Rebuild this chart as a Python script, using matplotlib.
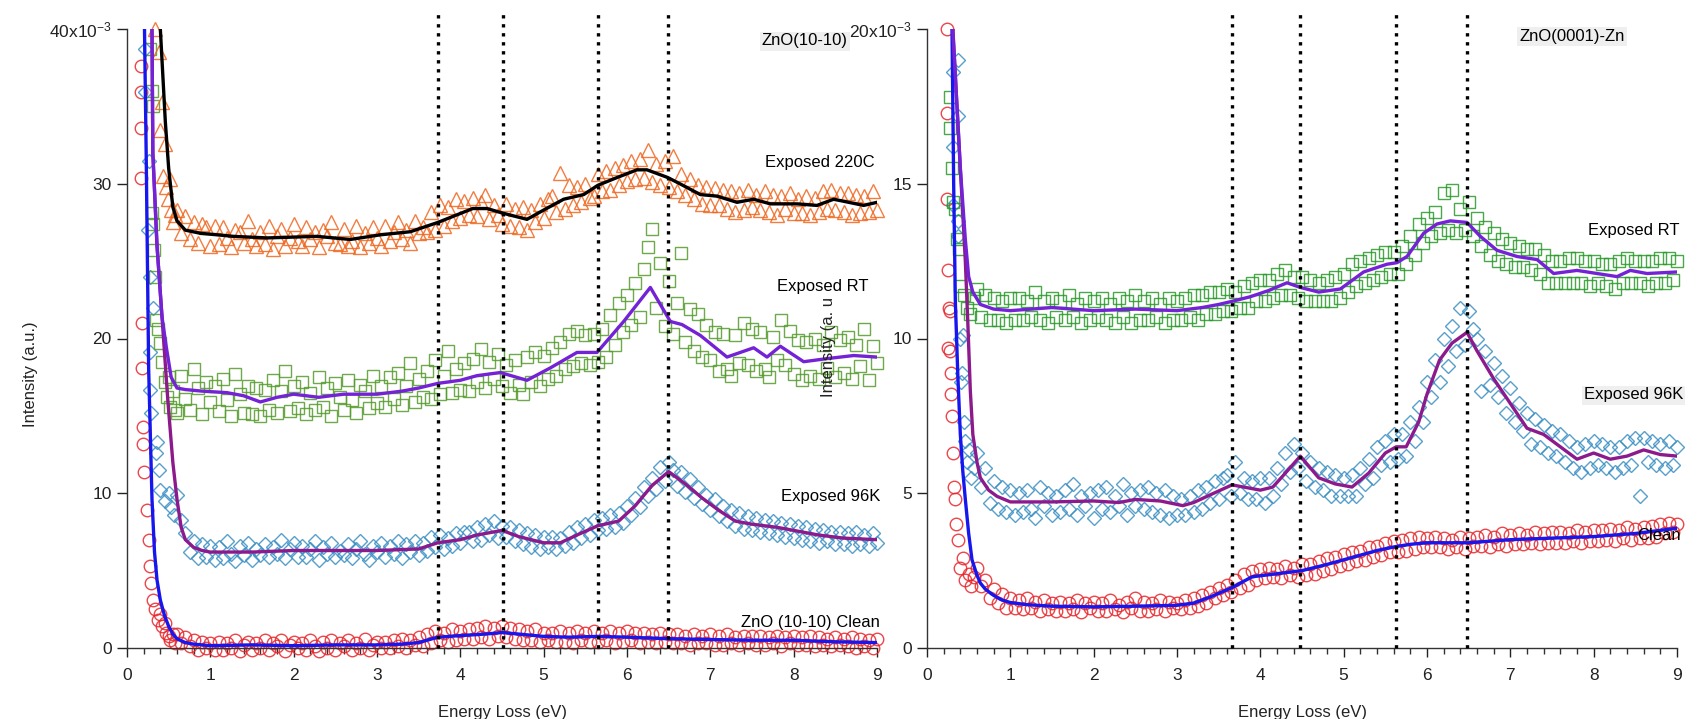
import numpy as np
import matplotlib
matplotlib.use("Agg")
import matplotlib.pyplot as plt

plt.rcParams["font.family"] = ["Liberation Sans", "DejaVu Sans"]
plt.rcParams["font.size"] = 12

# energy grid of the measured points (eV); intensities below are in units of 1e-3
E = np.round(np.arange(0.60, 9.0001, 0.05), 2)

# ---------------- ZnO(10-10) panel ----------------
l220_pts = [28.3, 26.8, 27.9, 26.4, 27.5, 26.2, 27.4, 27.2, 26.0, 27.3,
            26.1, 27.2, 26.5, 25.9, 27.0, 26.9, 26.2, 27.6, 26.4, 26.0,
            26.9, 26.1, 27.3, 25.8, 26.6, 27.1, 26.0, 26.5, 27.4, 26.3,
            26.0, 27.2, 26.4, 26.9, 25.9, 27.0, 26.6, 27.5, 26.2, 26.1,
            27.1, 26.0, 26.3, 27.3, 25.9, 26.8, 26.2, 27.2, 26.5, 26.0,
            27.3, 26.3, 26.9, 27.5, 26.4, 27.0, 26.2, 27.6, 26.8, 27.2,
            26.9, 28.2, 27.0, 28.6, 27.3, 28.5, 27.6, 29.0, 27.8, 28.9,
            28.0, 29.1, 27.9, 28.8, 29.3, 27.7, 28.6, 28.0, 27.4, 28.7,
            27.3, 28.4, 27.2, 28.5, 27.0, 28.3, 27.5, 28.7, 27.8, 29.0,
            29.2, 28.2, 30.7, 28.4, 29.9, 28.6, 29.8, 28.8, 30.0, 29.1,
            29.2, 30.6, 29.5, 30.8, 29.6, 31.0, 29.9, 31.2, 30.2, 31.5,
            30.3, 31.6, 30.4, 32.2, 30.1, 31.3, 29.9, 31.5, 29.8, 31.8,
            29.5, 30.6, 29.3, 30.3, 29.0, 29.9, 28.7, 29.8, 28.6, 29.7,
            28.6, 29.6, 28.4, 29.5, 28.2, 29.4, 28.3, 29.6, 28.5, 29.3,
            28.3, 29.5, 28.2, 29.3, 28.0, 29.2, 28.4, 29.4, 28.1, 29.0,
            28.1, 29.2, 28.0, 29.1, 28.2, 29.5, 28.4, 29.6, 28.3, 29.4,
            28.2, 29.4, 28.0, 29.3, 28.1, 29.2, 28.2, 29.5, 28.3]
l220_peak_x = [0.34, 0.38, 0.40, 0.42, 0.43, 0.45, 0.47, 0.49, 0.51, 0.53, 0.55, 0.57]
l220_peak_y = [40.0, 38.5, 33.5, 35.3, 30.5, 32.6, 29.8, 29.0, 30.3, 28.3, 27.5, 28.0]
l220_line_x = [0.40, 0.43, 0.46, 0.50, 0.55, 0.60, 0.70, 0.88, 1.28, 1.68, 2.28, 2.68, 3.04,
               3.40, 3.73, 4.15, 4.32, 4.51, 4.80, 5.00, 5.24, 5.48, 5.65, 5.88, 6.12, 6.24,
               6.49, 6.67, 6.88, 7.08, 7.32, 7.52, 7.72, 8.04, 8.28, 8.48, 8.84, 9.00]
l220_line_y = [40.0, 37.0, 34.0, 31.0, 28.5, 27.6, 27.0, 26.8, 26.6, 26.5, 26.6, 26.4, 26.7,
               26.9, 27.5, 28.4, 28.4, 28.1, 27.7, 28.3, 29.0, 29.3, 29.9, 30.4, 30.9, 30.9,
               30.4, 29.9, 29.3, 29.2, 28.8, 29.0, 28.7, 28.7, 28.6, 29.0, 28.6, 28.8]

lrt_pts = [15.2, 17.6, 16.1, 15.4, 18.0, 16.8, 15.1, 17.2, 15.9, 16.9,
           15.3, 17.4, 16.0, 15.0, 17.7, 16.4, 15.2, 16.9, 15.1, 16.8,
           15.0, 16.7, 15.4, 17.3, 15.2, 16.6, 17.9, 15.3, 16.9, 15.5,
           17.2, 15.1, 16.5, 15.4, 17.5, 15.6, 16.8, 15.0, 17.1, 16.2,
           15.4, 17.3, 16.0, 15.2, 17.0, 16.6, 15.5, 17.6, 15.8, 16.9,
           15.6, 17.5, 16.1, 17.8, 15.7, 16.9, 18.4, 15.9, 17.4, 16.2,
           17.9, 16.1, 18.6, 16.4, 17.6, 19.2, 16.5, 18.0, 16.7, 18.4,
           16.6, 18.7, 17.2, 19.3, 16.8, 18.5, 17.4, 19.0, 16.9, 18.3,
           16.5, 18.6, 17.0, 16.4, 18.8, 17.2, 19.1, 16.9, 18.9, 17.4,
           19.4, 17.6, 19.8, 18.0, 20.3, 18.2, 20.5, 18.4, 20.2, 18.3,
           20.3, 18.5, 20.6, 18.8, 21.5, 19.6, 22.3, 20.4, 22.8, 20.9,
           23.6, 21.4, 24.5, 25.9, 27.1, 22.0, 24.9, 20.8, 23.7, 20.3,
           22.3, 25.5, 19.8, 21.9, 19.2, 21.6, 18.8, 20.9, 18.6, 20.4,
           17.9, 20.3, 18.0, 17.6, 20.2, 18.4, 21.0, 18.3, 20.6, 17.9,
           20.4, 18.0, 17.5, 20.1, 18.6, 21.2, 18.3, 20.5, 17.7, 19.9,
           17.3, 19.8, 17.6, 20.0, 17.4, 19.6, 18.1, 20.4, 17.5, 19.9,
           17.8, 20.1, 17.4, 19.6, 18.2, 20.6, 17.3, 19.5, 18.4]
lrt_peak_x = [0.28, 0.30, 0.31, 0.30, 0.31, 0.32, 0.33, 0.35, 0.37, 0.40, 0.42, 0.45,
              0.48, 0.50, 0.52, 0.55, 0.57]
lrt_peak_y = [38.7, 36.0, 35.0, 28.1, 27.4, 25.7, 24.0, 21.2, 20.6, 19.7, 18.5, 17.2,
              16.2, 17.5, 15.6, 16.6, 15.4]
lrt_line_x = [0.30, 0.31, 0.36, 0.42, 0.47, 0.53, 0.60, 0.70, 0.90, 1.20, 1.40, 1.60, 1.80,
              2.00, 2.30, 2.60, 3.00, 3.30, 3.50, 3.73, 4.00, 4.20, 4.48, 4.80, 5.08, 5.40,
              5.64, 5.96, 6.28, 6.52, 6.66, 6.88, 7.20, 7.52, 7.68, 7.84, 8.12, 8.40, 8.72, 9.00]
lrt_line_y = [40.0, 32.0, 26.0, 21.4, 19.5, 17.5, 16.8, 16.7, 16.6, 16.5, 16.3, 15.9, 16.2,
              16.4, 16.2, 16.4, 16.4, 16.6, 16.8, 17.1, 17.3, 17.6, 17.8, 17.3, 18.1, 19.1,
              19.1, 21.1, 23.3, 21.1, 20.9, 20.2, 18.8, 19.4, 18.8, 19.5, 18.5, 18.7, 18.9, 18.8]

l96_pts = [9.9, 8.3, 7.4, 6.2, 6.9, 5.8, 6.7, 5.9, 6.6, 5.7,
           6.5, 5.8, 6.9, 6.1, 5.6, 6.6, 6.0, 6.8, 5.7, 6.4,
           6.0, 6.7, 5.9, 6.5, 6.1, 7.0, 5.8, 6.4, 6.8, 5.9,
           6.6, 5.9, 6.4, 6.9, 5.7, 6.5, 6.1, 6.8, 5.9, 6.3,
           6.0, 6.7, 5.8, 6.4, 6.9, 6.1, 5.7, 6.6, 6.2, 6.8,
           5.9, 6.6, 6.1, 6.9, 5.8, 6.7, 6.2, 6.9, 6.0, 6.8,
           6.3, 7.2, 6.5, 7.3, 6.4, 7.1, 6.6, 7.4, 6.8, 7.5,
           7.5, 6.9, 7.8, 7.0, 8.0, 7.3, 8.2, 7.1, 7.9, 7.2,
           7.8, 6.9, 7.6, 6.7, 7.4, 6.5, 7.3, 6.4, 7.2, 6.5,
           7.2, 6.4, 7.1, 6.6, 7.5, 6.8, 7.8, 7.1, 8.0, 7.3,
           8.3, 7.6, 8.4, 7.7, 8.6, 7.8, 8.7, 8.1, 9.2, 8.6,
           9.7, 9.1, 10.4, 9.8, 11.0, 10.3, 11.7, 10.8, 12.0, 11.5,
           10.5, 11.4, 10.1, 10.9, 9.7, 10.4, 9.3, 9.9, 8.9, 9.6,
           8.5, 9.2, 8.2, 8.9, 7.9, 8.7, 7.7, 8.5, 7.6, 8.4,
           7.5, 8.3, 7.4, 8.2, 7.3, 8.1, 7.2, 8.0, 7.1, 7.9,
           7.0, 7.8, 6.9, 7.7, 6.8, 7.6, 6.9, 7.5, 6.7, 7.5,
           6.7, 7.4, 6.6, 7.5, 6.7, 7.3, 6.6, 7.4, 6.8]
l96_peak_x = [0.22, 0.22, 0.26, 0.25, 0.27, 0.31, 0.27, 0.28, 0.29, 0.36, 0.35, 0.38,
              0.40, 0.45, 0.50, 0.53, 0.56]
l96_peak_y = [38.7, 35.9, 31.5, 27.0, 24.0, 22.0, 19.1, 16.7, 15.2, 13.3, 12.6, 11.5,
              10.2, 9.5, 10.0, 9.1, 8.6]
l96_line_x = [0.30, 0.31, 0.36, 0.42, 0.49, 0.55, 0.60, 0.65, 0.70, 0.80, 0.90, 1.00, 1.50,
              2.00, 2.50, 3.00, 3.50, 3.73, 4.00, 4.20, 4.50, 4.70, 5.00, 5.20, 5.40, 5.65,
              5.90, 6.10, 6.30, 6.50, 6.70, 6.90, 7.10, 7.30, 7.50, 7.80, 8.00, 8.30, 8.60, 9.00]
l96_line_y = [40.0, 32.0, 26.0, 21.4, 16.0, 12.0, 9.6, 7.8, 7.0, 6.5, 6.3, 6.2, 6.2,
              6.3, 6.3, 6.3, 6.4, 6.8, 7.0, 7.3, 7.6, 7.2, 6.8, 6.8, 7.3, 7.9,
              8.2, 9.2, 10.5, 11.4, 10.6, 9.7, 8.9, 8.2, 8.0, 7.8, 7.6, 7.3, 7.1, 7.0]

lcl_pts = [0.9, 0.3, 0.7, 0.1, 0.5, -0.1, 0.4, 0.0, 0.3, -0.1,
           0.4, -0.1, 0.3, 0.0, 0.5, -0.2, 0.2, 0.4, -0.1, 0.3,
           0.0, 0.5, -0.1, 0.3, 0.1, 0.5, -0.2, 0.2, 0.4, 0.0,
           0.3, -0.1, 0.5, 0.1, -0.2, 0.4, 0.0, 0.5, -0.1, 0.3,
           0.1, 0.5, -0.1, 0.3, 0.0, 0.6, -0.1, 0.2, 0.4, 0.0,
           0.4, 0.0, 0.5, 0.1, 0.6, 0.0, 0.5, 0.2, 0.7, 0.1,
           0.9, 0.3, 1.1, 0.5, 1.0, 0.4, 1.2, 0.5, 1.1, 0.6,
           1.2, 0.6, 1.3, 0.7, 1.4, 0.6, 1.3, 0.8, 1.4, 0.7,
           1.3, 0.6, 1.2, 0.5, 1.1, 0.5, 1.2, 0.4, 1.0, 0.5,
           1.0, 0.4, 1.1, 0.4, 1.0, 0.3, 1.1, 0.5, 1.0, 0.4,
           1.1, 0.4, 1.0, 0.5, 1.1, 0.3, 1.0, 0.4, 1.1, 0.5,
           1.0, 0.3, 1.0, 0.4, 0.9, 0.3, 1.0, 0.4, 0.9, 0.3,
           0.9, 0.3, 0.8, 0.2, 0.9, 0.3, 0.8, 0.3, 0.9, 0.2,
           0.8, 0.2, 0.9, 0.3, 0.7, 0.2, 0.8, 0.3, 0.8, 0.2,
           0.8, 0.2, 0.7, 0.3, 0.8, 0.1, 0.7, 0.3, 0.8, 0.2,
           0.7, 0.2, 0.8, 0.1, 0.7, 0.2, 0.6, 0.1, 0.7, 0.2,
           0.6, 0.1, 0.7, 0.0, 0.6, 0.1, 0.5, 0.0, 0.6]
lcl_peak_x = [0.17, 0.17, 0.17, 0.17, 0.18, 0.18, 0.19, 0.19, 0.20, 0.24, 0.26, 0.27,
              0.29, 0.31, 0.34, 0.37, 0.40, 0.42, 0.45, 0.47, 0.50, 0.52, 0.55, 0.57]
lcl_peak_y = [37.6, 35.9, 33.6, 30.4, 21.0, 18.1, 14.3, 13.2, 11.4, 8.9, 7.0, 5.3,
              4.2, 3.1, 2.5, 1.8, 2.2, 1.4, 1.6, 1.0, 0.8, 0.5, 0.9, 0.3]
lcl_line_x = [0.21, 0.23, 0.26, 0.30, 0.33, 0.36, 0.40, 0.45, 0.50, 0.55, 0.60, 0.70, 0.80,
              1.00, 1.50, 2.00, 2.50, 3.00, 3.30, 3.50, 3.73, 4.00, 4.30, 4.50, 4.80, 5.00,
              5.30, 5.65, 6.00, 6.50, 7.00, 7.50, 8.00, 8.50, 9.00]
lcl_line_y = [40.0, 32.0, 18.0, 9.6, 6.2, 4.4, 3.1, 2.1, 1.4, 0.9, 0.6, 0.35, 0.25,
              0.15, 0.2, 0.15, 0.2, 0.2, 0.25, 0.35, 0.7, 0.8, 0.9, 1.0, 0.85, 0.75,
              0.7, 0.75, 0.7, 0.6, 0.55, 0.5, 0.5, 0.4, 0.35]

# ---------------- ZnO(0001)-Zn panel ----------------
rrt_pts = [11.6, 10.7, 11.4, 10.6, 11.3, 10.6, 11.2, 10.5, 11.3, 10.6,
           11.3, 10.6, 11.2, 10.7, 11.5, 10.6, 11.2, 10.5, 11.3, 10.7,
           11.2, 10.6, 11.4, 10.7, 11.1, 10.5, 11.3, 10.6, 11.2, 10.7,
           11.3, 10.6, 11.1, 10.5, 11.3, 10.7, 11.2, 10.5, 11.4, 10.6,
           11.2, 10.6, 11.3, 10.7, 11.1, 10.5, 11.3, 10.6, 11.2, 10.6,
           11.3, 10.7, 11.4, 10.6, 11.4, 10.8, 11.5, 10.8, 11.5, 10.9,
           11.6, 10.9, 11.5, 11.0, 11.7, 11.0, 11.8, 11.2, 11.9, 11.2,
           11.9, 11.3, 12.1, 11.4, 12.2, 11.4, 12.0, 11.3, 12.0, 11.2,
           11.9, 11.2, 11.8, 11.2, 11.9, 11.2, 12.0, 11.3, 12.1, 11.5,
           12.4, 11.7, 12.5, 11.8, 12.6, 11.9, 12.7, 12.0, 12.8, 12.1,
           12.8, 12.1, 13.0, 12.4, 13.3, 12.7, 13.7, 13.1, 13.9, 13.3,
           14.1, 13.4, 14.7, 13.5, 14.8, 13.4, 14.2, 13.5, 14.4, 13.3,
           13.9, 13.0, 13.6, 12.7, 13.4, 12.5, 13.2, 12.4, 13.1, 12.3,
           13.0, 12.3, 12.9, 12.2, 12.9, 12.1, 12.7, 11.8, 12.5, 11.8,
           12.5, 11.8, 12.6, 11.8, 12.6, 11.8, 12.5, 11.7, 12.5, 11.8,
           12.4, 11.7, 12.4, 11.6, 12.5, 11.8, 12.6, 11.8, 12.5, 11.8,
           12.5, 11.7, 12.5, 11.8, 12.6, 11.8, 12.6, 11.9, 12.5]
rrt_peak_x = [0.27, 0.28, 0.30, 0.31, 0.33, 0.36, 0.38, 0.40, 0.44, 0.48, 0.52, 0.56]
rrt_peak_y = [17.8, 16.8, 15.5, 14.4, 14.2, 13.2, 12.9, 11.7, 11.4, 11.0, 10.8, 11.3]
rrt_line_x = [0.31, 0.40, 0.46, 0.50, 0.55, 0.64, 0.80, 1.00, 1.50, 2.00, 2.50, 3.00, 3.30,
              3.50, 3.66, 3.88, 4.10, 4.32, 4.48, 4.70, 4.96, 5.24, 5.52, 5.64, 5.76, 5.96,
              6.12, 6.28, 6.48, 6.64, 6.84, 7.08, 7.32, 7.52, 7.80, 8.04, 8.28, 8.44, 8.64, 9.00]
rrt_line_y = [20.0, 15.5, 13.2, 12.0, 11.5, 11.1, 10.95, 10.9, 11.0, 10.9, 10.95, 10.9, 11.0,
              11.1, 11.2, 11.35, 11.55, 11.8, 11.65, 11.5, 11.6, 12.15, 12.4, 12.45, 12.65, 13.4,
              13.7, 13.8, 13.75, 13.3, 12.85, 12.65, 12.55, 12.1, 12.2, 12.1, 12.0, 12.2, 12.1, 12.15]

r96_pts = [6.3, 5.2, 5.8, 4.7, 5.4, 4.5, 5.2, 4.4, 5.1, 4.3,
           5.0, 4.4, 5.1, 4.5, 4.2, 5.2, 4.6, 5.0, 4.3, 4.9,
           4.4, 5.1, 4.5, 5.3, 4.3, 4.9, 4.6, 5.0, 4.2, 5.1,
           4.5, 5.2, 4.4, 4.9, 4.6, 5.3, 4.3, 5.0, 4.6, 5.1,
           4.5, 5.2, 4.4, 5.0, 4.3, 5.1, 4.2, 4.9, 4.3, 4.8,
           4.3, 4.9, 4.4, 5.1, 4.5, 5.2, 4.7, 5.4, 4.8, 5.5,
           5.6, 4.9, 6.0, 5.0, 5.5, 4.8, 5.4, 4.8, 5.5, 4.7,
           5.5, 4.9, 5.8, 5.3, 6.3, 5.7, 6.6, 5.8, 6.3, 5.4,
           6.0, 5.2, 5.8, 5.1, 5.7, 4.9, 5.6, 4.9, 5.5, 4.9,
           5.6, 4.9, 5.8, 5.3, 6.1, 5.5, 6.5, 5.9, 6.7, 6.0,
           6.9, 6.1, 6.9, 6.2, 7.3, 6.7, 7.8, 7.3, 8.6, 8.1,
           9.3, 8.6, 10.0, 9.1, 10.4, 9.6, 11.0, 9.8, 10.9, 10.3,
           10.0, 8.3, 9.6, 8.5, 9.2, 8.1, 8.8, 7.6, 8.4, 7.3,
           7.9, 7.0, 7.6, 6.6, 7.4, 6.5, 7.2, 6.3, 7.0, 6.2,
           6.9, 6.0, 6.7, 5.8, 6.5, 5.7, 6.6, 5.8, 6.7, 5.9,
           6.6, 5.8, 6.5, 5.7, 6.5, 5.8, 6.7, 5.9, 6.8, 4.9,
           6.8, 6.0, 6.7, 5.9, 6.6, 5.8, 6.7, 5.9, 6.5]
r96_peak_x = [0.37, 0.31, 0.37, 0.31, 0.31, 0.37, 0.37, 0.39, 0.43, 0.42, 0.41, 0.44,
              0.45, 0.48, 0.50, 0.53, 0.56]
r96_peak_y = [19.0, 18.6, 17.2, 16.2, 14.3, 13.8, 13.3, 10.0, 10.1, 8.9, 8.6, 7.3,
              6.7, 6.0, 6.4, 5.5, 5.8]
r96_line_x = [0.31, 0.40, 0.46, 0.49, 0.52, 0.55, 0.60, 0.64, 0.74, 0.84, 1.00, 1.50, 2.00,
              2.30, 2.50, 2.80, 3.07, 3.20, 3.40, 3.66, 3.80, 4.00, 4.15, 4.30, 4.48, 4.70,
              4.90, 5.10, 5.30, 5.50, 5.63, 5.75, 5.90, 6.00, 6.15, 6.30, 6.48, 6.60, 6.80,
              7.00, 7.20, 7.40, 7.60, 7.80, 8.00, 8.20, 8.40, 8.60, 8.80, 9.00]
r96_line_y = [20.0, 15.5, 12.5, 10.5, 8.3, 6.9, 6.0, 5.5, 5.1, 4.9, 4.72, 4.72, 4.75,
              4.7, 4.8, 4.75, 4.6, 4.7, 4.95, 5.27, 5.2, 5.1, 5.2, 5.65, 6.2, 5.5,
              5.3, 5.2, 5.65, 6.3, 6.5, 6.5, 7.3, 8.2, 9.3, 9.85, 10.2, 9.6, 8.7,
              7.9, 7.1, 6.9, 6.5, 6.1, 6.3, 6.1, 6.2, 6.4, 6.25, 6.2]

rcl_pts = [2.6, 2.0, 2.2, 1.6, 1.9, 1.45, 1.75, 1.3, 1.6, 1.3,
           1.55, 1.25, 1.6, 1.3, 1.5, 1.2, 1.55, 1.25, 1.45, 1.2,
           1.5, 1.2, 1.45, 1.25, 1.55, 1.15, 1.45, 1.3, 1.5, 1.2,
           1.45, 1.2, 1.55, 1.25, 1.4, 1.15, 1.5, 1.3, 1.6, 1.2,
           1.5, 1.2, 1.45, 1.25, 1.55, 1.2, 1.5, 1.3, 1.45, 1.25,
           1.55, 1.3, 1.6, 1.35, 1.7, 1.45, 1.8, 1.6, 1.95, 1.7,
           2.05, 1.8, 2.2, 1.95, 2.4, 2.05, 2.5, 2.2, 2.55, 2.25,
           2.6, 2.3, 2.55, 2.25, 2.65, 2.35, 2.6, 2.3, 2.7, 2.35,
           2.7, 2.4, 2.8, 2.5, 2.9, 2.55, 2.95, 2.65, 3.05, 2.7,
           3.1, 2.8, 3.15, 2.85, 3.25, 2.95, 3.3, 3.0, 3.4, 3.1,
           3.45, 3.1, 3.5, 3.15, 3.55, 3.2, 3.6, 3.25, 3.55, 3.25,
           3.6, 3.25, 3.55, 3.2, 3.5, 3.25, 3.6, 3.2, 3.55, 3.3,
           3.6, 3.3, 3.65, 3.25, 3.6, 3.35, 3.7, 3.3, 3.65, 3.35,
           3.7, 3.35, 3.65, 3.4, 3.75, 3.35, 3.7, 3.4, 3.75, 3.4,
           3.75, 3.4, 3.7, 3.45, 3.8, 3.4, 3.75, 3.45, 3.8, 3.45,
           3.8, 3.5, 3.85, 3.45, 3.8, 3.55, 3.9, 3.5, 3.85, 3.55,
           3.9, 3.55, 3.95, 3.6, 4.0, 3.7, 4.05, 3.75, 4.0]
rcl_peak_x = [0.24, 0.24, 0.24, 0.25, 0.26, 0.25, 0.28, 0.28, 0.29, 0.29, 0.30, 0.31,
              0.32, 0.33, 0.35, 0.37, 0.40, 0.43, 0.46, 0.50, 0.53, 0.56]
rcl_peak_y = [20.0, 17.3, 14.5, 12.2, 11.0, 9.7, 10.9, 9.6, 8.9, 8.2, 7.5, 6.3,
              5.2, 4.8, 4.0, 3.5, 2.6, 2.9, 2.2, 2.4, 2.0, 2.3]
rcl_line_x = [0.30, 0.32, 0.34, 0.37, 0.40, 0.43, 0.46, 0.50, 0.54, 0.60, 0.64, 0.70, 0.80,
              0.90, 1.00, 1.20, 1.50, 2.00, 2.50, 3.00, 3.20, 3.40, 3.66, 3.90, 4.20, 4.50,
              4.80, 5.00, 5.20, 5.40, 5.63, 5.80, 6.00, 6.50, 7.00, 7.50, 8.00, 8.50, 9.00]
rcl_line_y = [20.0, 15.0, 11.2, 8.8, 6.9, 5.7, 4.8, 3.7, 2.85, 2.35, 2.1, 1.9, 1.7,
              1.55, 1.47, 1.4, 1.35, 1.33, 1.35, 1.38, 1.45, 1.65, 1.95, 2.3, 2.4, 2.5,
              2.7, 2.85, 3.0, 3.15, 3.28, 3.35, 3.4, 3.4, 3.5, 3.55, 3.6, 3.7, 3.87]

# energies of the dotted reference lines
marks_left = [3.73, 4.51, 5.65, 6.49]
marks_right = [3.66, 4.48, 5.63, 6.48]

W, H = 1688, 719


def fx(px):
    return px / W


def fy(py):
    return 1 - py / H


def setup_axis(ax, ymax, yticks, top_label):
    ax.set_xlim(0, 9)
    ax.set_ylim(0, ymax)
    for s in ["top", "right"]:
        ax.spines[s].set_visible(False)
    for s in ["left", "bottom"]:
        ax.spines[s].set_color("#333333")
        ax.spines[s].set_linewidth(1.0)
    ax.set_xticks(range(10))
    ax.set_xticks(np.arange(0, 9.01, 0.2), minor=True)
    ax.set_yticks(yticks)
    labels = [str(t) for t in yticks[:-1]] + [top_label]
    ax.set_yticklabels(labels)
    ax.tick_params(axis="x", which="major", direction="out", length=6.5, width=1.0,
                   pad=8, labelsize=12.5, colors="#222222")
    ax.tick_params(axis="x", which="minor", direction="out", length=4, width=1.0,
                   colors="#333333")
    ax.tick_params(axis="y", which="major", direction="out", length=7, width=1.0,
                   pad=4, labelsize=12.5, colors="#222222")
    ax.patch.set_alpha(0)


def scatter(ax, x, y, marker, color, ms, z=2):
    ax.plot(x, y, linestyle="none", marker=marker, ms=ms, mfc="none", mec=color,
            mew=1.0, alpha=0.85, clip_on=False, zorder=z)


fig = plt.figure(figsize=(W / 100, H / 100), dpi=100)
bottom = fy(648)
height = (648 - 29) / H
ax1 = fig.add_axes([fx(127), bottom, 750 / W, height])
ax2 = fig.add_axes([fx(927), bottom, 750 / W, height])

orange = "#f0661e"
green_l = "#559b2d"
green_r = "#2a992a"
blue_pts = "#3a8fc4"
red_pts = "#e8262b"
violet = "#7422d6"
plum = "#8c1a8c"
blue_line = "#1616ee"

# left panel
setup_axis(ax1, 40, [0, 10, 20, 30, 40], r"$\mathregular{40x10^{-3}}$")
scatter(ax1, lcl_peak_x, lcl_peak_y, "o", red_pts, 9)
scatter(ax1, E, lcl_pts, "o", red_pts, 9)
scatter(ax1, l96_peak_x, l96_peak_y, "D", blue_pts, 7.5)
scatter(ax1, E, l96_pts, "D", blue_pts, 7.5)
scatter(ax1, lrt_peak_x, lrt_peak_y, "s", green_l, 9)
scatter(ax1, E, lrt_pts, "s", green_l, 9)
scatter(ax1, l220_peak_x, l220_peak_y, "^", orange, 10)
scatter(ax1, E, l220_pts, "^", orange, 10)
ax1.plot(lcl_line_x, lcl_line_y, color=blue_line, lw=2.4, zorder=4)
ax1.plot(l96_line_x, l96_line_y, color=plum, lw=2.4, zorder=4)
ax1.plot(lrt_line_x, lrt_line_y, color=violet, lw=2.4, zorder=4)
ax1.plot(l220_line_x, l220_line_y, color="black", lw=2.4, zorder=4)
ax1.vlines(marks_left, 0, 41.2, colors="black", linestyles=(0, (1, 1.7)), lw=2.4,
           clip_on=False, zorder=5)

# right panel
setup_axis(ax2, 20, [0, 5, 10, 15, 20], r"$\mathregular{20x10^{-3}}$")
scatter(ax2, rcl_peak_x, rcl_peak_y, "o", red_pts, 9)
scatter(ax2, E, rcl_pts, "o", red_pts, 9)
scatter(ax2, r96_peak_x, r96_peak_y, "D", blue_pts, 7.5)
scatter(ax2, E, r96_pts, "D", blue_pts, 7.5)
scatter(ax2, rrt_peak_x, rrt_peak_y, "s", green_r, 9)
scatter(ax2, E, rrt_pts, "s", green_r, 9)
ax2.plot(rcl_line_x, rcl_line_y, color=blue_line, lw=2.4, zorder=4)
ax2.plot(r96_line_x, r96_line_y, color=plum, lw=2.4, zorder=4)
ax2.plot(rrt_line_x, rrt_line_y, color=violet, lw=2.4, zorder=4)
ax2.vlines(marks_right, 0, 20.6, colors="black", linestyles=(0, (1, 1.7)), lw=2.4,
           clip_on=False, zorder=5)

# axis titles
fig.text(fx(30), fy(374), "Intensity (a.u.)", rotation=90, ha="center", va="center",
         fontsize=12, color="#222222")
fig.text(fx(829), fy(397), "Intensity (a. u", rotation=90, ha="center", va="bottom",
         fontsize=12, color="#222222")
fig.text(fx(502), fy(712), "Energy Loss (eV)", ha="center", va="center", fontsize=12,
         color="#222222")
fig.text(fx(1302), fy(712), "Energy Loss (eV)", ha="center", va="center", fontsize=12,
         color="#222222")

# curve labels
gray_box = dict(facecolor="#efefef", edgecolor="none", pad=1.5)
fig.text(fx(805), fy(41), "ZnO(10-10)", ha="center", va="center", fontsize=12, bbox=gray_box)
fig.text(fx(875), fy(163), "Exposed 220C", ha="right", va="center", fontsize=12)
fig.text(fx(868), fy(287), "Exposed RT", ha="right", va="center", fontsize=12)
fig.text(fx(880), fy(497), "Exposed 96K", ha="right", va="center", fontsize=12)
fig.text(fx(880), fy(622), "ZnO (10-10) Clean", ha="right", va="center", fontsize=12)

fig.text(fx(1572), fy(36), "ZnO(0001)-Zn", ha="center", va="center", fontsize=12, bbox=gray_box)
fig.text(fx(1680), fy(231), "Exposed RT", ha="right", va="center", fontsize=12)
fig.text(fx(1683), fy(395), "Exposed 96K", ha="right", va="center", fontsize=12, bbox=gray_box)
fig.text(fx(1681), fy(535), "Clean", ha="right", va="center", fontsize=12)

fig.savefig("out.png", dpi=100)
